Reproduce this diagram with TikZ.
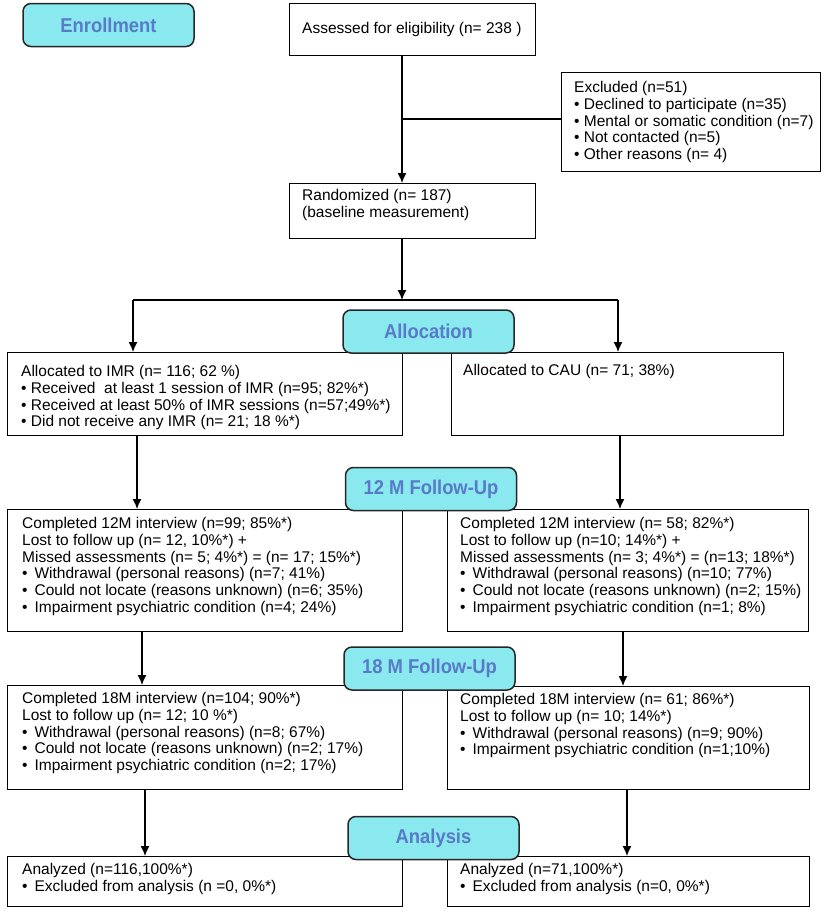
\documentclass[tikz,border=0pt]{standalone}
\usepackage{fontspec}
\setmainfont{Liberation Sans}
\newfontfamily\headfont[FakeStretch=0.92]{Liberation Sans}
\usetikzlibrary{arrows.meta}
\usetikzlibrary{positioning}
\definecolor{stagecyan}{RGB}{137,233,239}
\definecolor{stageblue}{RGB}{88,122,200}
\tikzset{
	box/.style={draw, rectangle, line width=1.2pt, fill=white, anchor=north west, inner sep=0pt},
	txt/.style={align=left, inner sep=0pt, anchor=north west, font=\fontsize{15.5}{16.8}\selectfont},
	% blue phase labels on the left/centre
	stage/.style={draw=black!85, rectangle, rounded corners=8pt, line width=1.5pt, fill=stagecyan, minimum width=171pt, minimum height=43pt, text=stageblue, font=\headfont\bfseries\fontsize{20}{23}\selectfont},
}
\newcommand{\bul}{\textbullet\hspace{7pt}}

\begin{document}
\begin{tikzpicture}[x=1pt, y=1pt]
	\useasboundingbox (0,0) rectangle (829,-914);
	
	% enrollment
	\node (assess) [box, minimum width=246pt, minimum height=52pt] at (289,-3) {};
	\node [txt, below right=19pt and 13pt of assess.north west] {Assessed for eligibility (n= 238 )};
	
	\node (excl) [box, minimum width=259pt, minimum height=99pt] at (561,-72) {};
	\node [txt, below right=9pt and 13pt of excl.north west] {Excluded (n=51)\\
		\textbullet\ Declined to participate (n=35)\\
		\textbullet\ Mental or somatic condition (n=7)\\
		\textbullet\ Not contacted (n=5)\\
		\textbullet\ Other reasons (n= 4)};
	
	\node (rand) [box, minimum width=246pt, minimum height=55pt] at (289,-183) {};
	\node [txt, below right=6pt and 13pt of rand.north west] {Randomized (n= 187)\\(baseline measurement)};
	
	% allocation
	\node (imr) [box, minimum width=395pt, minimum height=83pt] at (7,-352) {};
	\node [txt, below right=13pt and 14pt of imr.north west] {Allocated to IMR (n= 116; 62 \%)\\
		\textbullet\ Received\ \ at least 1 session of IMR (n=95; 82\%*)\\
		\textbullet\ Received at least 50\% of IMR sessions (n=57;49\%*)\\
		\textbullet\ Did not receive any IMR (n= 21; 18 \%*)};
	
	\node (cau) [box, minimum width=332pt, minimum height=83pt] at (451,-352) {};
	\node [txt, below right=12pt and 12pt of cau.north west] {Allocated to CAU (n= 71; 38\%)};
	
	% 12 months
	\node (fuL12) [box, minimum width=395pt, minimum height=122pt] at (7,-509) {};
	\node [txt, below right=8pt and 15pt of fuL12.north west] {Completed 12M interview (n=99; 85\%*)\\
		Lost to follow up (n= 12, 10\%*) +\\
		Missed assessments (n= 5; 4\%*) = (n= 17; 15\%*)\\
		\bul Withdrawal (personal reasons) (n=7; 41\%)\\
		\bul Could not locate (reasons unknown) (n=6; 35\%)\\
		\bul Impairment psychiatric condition (n=4; 24\%)};
	
	\node (fuR12) [box, minimum width=361pt, minimum height=122pt] at (447,-509) {};
	\node [txt, below right=8pt and 13pt of fuR12.north west] {Completed 12M interview (n= 58; 82\%*)\\
		Lost to follow up (n=10; 14\%*) +\\
		Missed assessments (n= 3; 4\%*) = (n=13; 18\%*)\\
		\bul Withdrawal (personal reasons) (n=10; 77\%)\\
		\bul Could not locate (reasons unknown) (n=2; 15\%)\\
		\bul Impairment psychiatric condition (n=1; 8\%)};
	
	% 18 months
	\node (fuL18) [box, minimum width=395pt, minimum height=104pt] at (7,-685) {};
	\node [txt, below right=7pt and 15pt of fuL18.north west] {Completed 18M interview (n=104; 90\%*)\\
		Lost to follow up (n= 12; 10 \%*)\\
		\bul Withdrawal (personal reasons) (n=8; 67\%)\\
		\bul Could not locate (reasons unknown) (n=2; 17\%)\\
		\bul Impairment psychiatric condition (n=2; 17\%)};
	
	\node (fuR18) [box, minimum width=362pt, minimum height=103pt] at (447,-686) {};
	\node [txt, below right=7pt and 13pt of fuR18.north west] {Completed 18M interview (n= 61; 86\%*)\\
		Lost to follow up (n= 10; 14\%*)\\
		\bul Withdrawal (personal reasons) (n=9; 90\%)\\
		\bul Impairment psychiatric condition (n=1;10\%)};
	
	% analysis
	\node (anL) [box, minimum width=395pt, minimum height=50pt] at (7,-856) {};
	\node [txt, below right=7pt and 15pt of anL.north west] {Analyzed (n=116,100\%*)\\
		\bul Excluded from analysis (n =0, 0\%*)};
	
	\node (anR) [box, minimum width=362pt, minimum height=50pt] at (447,-856) {};
	\node [txt, below right=7pt and 13pt of anR.north west] {Analyzed (n=71,100\%*)\\
		\bul Excluded from analysis (n=0, 0\%*)};
	
	\coordinate (brk) at (402,-119);
	\coordinate (spm) at (402,-300);
	\coordinate (spl) at (133,-300);
	\coordinate (spr) at (618,-300);
	
	\begin{scope}[line width=1.3pt, black, ->, >={Latex[length=10pt, width=9pt]}]
		\draw (brk |- assess.south) -- (brk |- rand.north);
		\draw[-] (brk) -- (brk -| excl.west);
		\draw (spm |- rand.south) -- (spm);
		\draw[-] (spl) -- (spr);
		\draw (spl) -- (spl |- imr.north);
		\draw (spr) -- (spr |- cau.north);
		
		\draw ([xshift=130]imr.south west) -- ([xshift=130]imr.south west |- fuL12.north);
		\draw ([xshift=169]cau.south west) -- ([xshift=169]cau.south west |- fuR12.north);
		
		\draw ([xshift=135]fuL12.south west) -- ([xshift=135]fuL12.south west |- fuL18.north);
		\draw ([xshift=176]fuR12.south west) -- ([xshift=176]fuR12.south west |- fuR18.north);
		
		\draw ([xshift=138]fuL18.south west) -- ([xshift=138]fuL18.south west |- anL.north);
		\draw ([xshift=180]fuR18.south west) -- ([xshift=180]fuR18.south west |- anR.north);
	\end{scope}
	
	\node (enrol) [stage] at (108.5,-25) {Enrollment};
	\node (alloc) [stage] at (428.5,-331.5) {Allocation};
	\node (fu12) [stage] at (431,-489) {12 M Follow-Up};
	\node (fu18) [stage] at (429.5,-668.5) {18 M Follow-Up};
	\node (anal) [stage] at (433.5,-838) {Analysis};
	
\end{tikzpicture}
\end{document}
